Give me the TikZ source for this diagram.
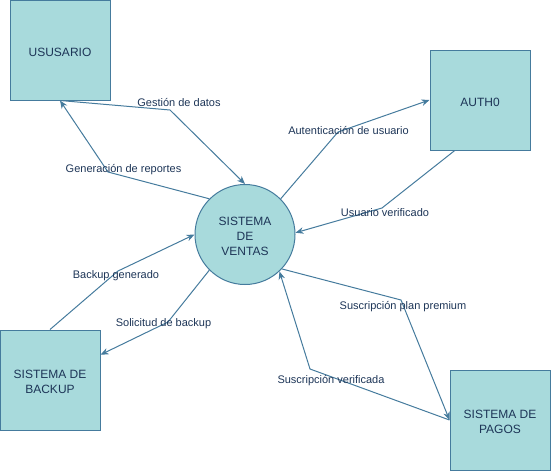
\documentclass[tikz,border=0pt]{standalone}
\usepackage{fontspec}
\setmainfont{Liberation Sans}
\usetikzlibrary{arrows.meta,calc}
\definecolor{fillc}{HTML}{A8DADC}
\definecolor{linec}{HTML}{457B9D}
\definecolor{textc}{HTML}{1D3557}
\begin{document}
\begin{tikzpicture}[x=1pt,y=-1pt,
  entity/.style={draw=linec,fill=fillc,minimum width=100pt,minimum height=100pt,inner sep=0pt,line width=1pt},
  proc/.style={circle,draw=linec,fill=fillc,minimum size=100pt,inner sep=0pt,line width=1pt},
  ntext/.style={text=textc,align=center,inner sep=0pt,yshift=-2pt,font=\fontsize{12}{15}\selectfont},
  flow/.style={draw=linec,line width=1pt,line join=round,-{Stealth[length=8pt,width=6.5pt,inset=2.5pt]}},
  lbl/.style={text=textc,font=\fontsize{11}{13}\selectfont,inner sep=0pt}]
\useasboundingbox (0,0) rectangle (551,471);

\node[entity] (u) at (60,50) {};
\node[entity] (a) at (480,100) {};
\node[entity] (b) at (50,380) {};
\node[entity] (p) at (500,420) {};
\node[proc] (v) at (245,234.5) {};

\node[ntext] (ut) at (u) {USUSARIO};
\node[ntext] (at) at (a) {AUTH0};
\node[ntext] (bt) at (b) {SISTEMA DE\\BACKUP};
\node[ntext] (pt) at (p) {SISTEMA DE\\PAGOS};
\node[ntext] (vt) at (v) {SISTEMA\\DE\\VENTAS};

% connectors
\draw[flow] (u.south) -- (170,110) -- (v.90);
\draw[flow] (v.135) -- (108,172) -- (u.south);
\draw[flow] (v.45) -- (338,132) -- (a.west);
\draw[flow] ($(a.south west)!0.25!(a.south east)$) -- (382,208) -- (v.2);
\draw[flow] (b.north) -- (118,271) -- (v.180);
\draw[flow] (v.225) -- (168,322) -- ($(b.north east)!0.25!(b.south east)$);
\draw[flow] (v.-43) -- (401,300) -- (p.west);
\draw[flow] (p.west) -- (310,369) -- (v.-47);

% labels
\node[lbl] (l1) at (179,102.5) {Gestión de datos};
\node[lbl] (l2) at (123.5,170) {Generación de reportes};
\node[lbl] (l3) at (348.5,131) {Autenticación de usuario};
\node[lbl] (l4) at (385,213) {Usuario verificado};
\node[lbl] (l5) at (116,276) {Backup generado};
\node[lbl] (l6) at (163.5,324) {Solicitud de backup};
\node[lbl] (l7) at (403,307) {Suscripción plan premium};
\node[lbl] (l8) at (331,381) {Suscripción verificada};
\end{tikzpicture}
\end{document}
